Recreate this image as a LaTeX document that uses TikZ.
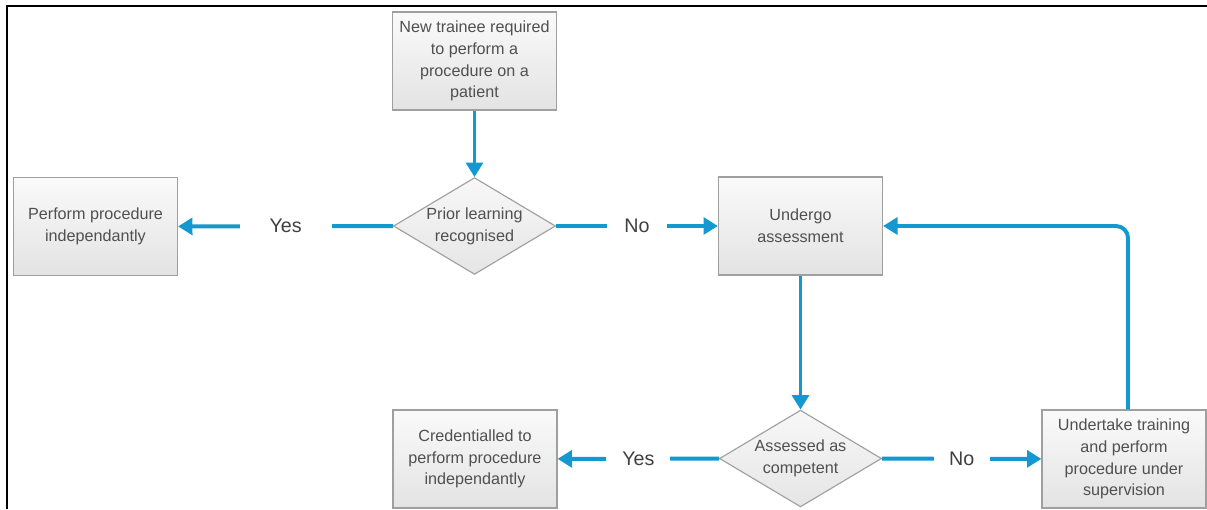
\documentclass[tikz,border=0pt]{standalone}
\usepackage{fontspec}
\setmainfont{Liberation Sans}
\usetikzlibrary{shapes.geometric,arrows.meta}
\definecolor{flowblue}{HTML}{1399CF}
\definecolor{txtgray}{HTML}{505050}
\begin{document}
\begin{tikzpicture}[x=0.025cm,y=-0.025cm,
    box/.style={draw=gray!75,line width=.8pt,top color=gray!4,bottom color=gray!22,text=txtgray,align=center,
        minimum width=4.1cm,minimum height=2.45cm,inner sep=2pt,font=\fontsize{11.5}{15.5}\selectfont},
    choice/.style={diamond,draw=gray!75,line width=.8pt,top color=gray!6,bottom color=gray!20,
        minimum width=4.05cm,minimum height=2.42cm,inner sep=0pt},
    choicetxt/.style={text=txtgray,align=center,inner sep=0pt,font=\fontsize{11.5}{15.5}\selectfont},
    flow/.style={draw=flowblue,line width=2.8pt,-{Triangle[width=.42cm,length=.36cm]}},
    lbl/.style={fill=white,text=black!75,inner sep=0pt,minimum height=.6cm,font=\fontsize{14}{16}\selectfont}]
    \useasboundingbox(0,0)rectangle(1207,509);
    \draw[line width=1.3pt](7,509)--(7,6)--(1207,6);
    % nodes
    \node[box](start)at(474.5,61){New trainee required\\to perform a\\procedure on a\\patient};
    \node[choice](prior)at(474.5,226){};
    \node[choicetxt](priortxt)at(prior){Prior learning\\recognised};
    \node[box](indep)at(95.5,226.5){Perform procedure\\independantly};
    \node[box](assess)at(800.5,226){Undergo\\assessment};
    \node[choice](compet)at(800.5,458.5){};
    \node[choicetxt](competxt)at(compet){Assessed as\\competent};
    \node[box](cred)at(475,459){Credentialled to\\perform procedure\\independantly};
    \node[box](train)at(1124,459){Undertake training\\and perform\\procedure under\\supervision};
    % connectors
    \draw[flow](start)--(prior);
    \draw[flow](prior)--node[lbl,minimum width=2.3cm]{Yes}(indep);
    \draw[flow](prior)--node[lbl,minimum width=1.5cm]{No}(assess);
    \draw[flow](assess)--(compet);
    \draw[flow](compet)--node[lbl,minimum width=1.6cm]{Yes}(cred);
    \draw[flow](compet)--node[lbl,minimum width=1.4cm]{No}(train);
    \draw[flow,rounded corners=.3cm]([xshift=.1cm]train.north)|-(assess.east);
\end{tikzpicture}
\end{document}
